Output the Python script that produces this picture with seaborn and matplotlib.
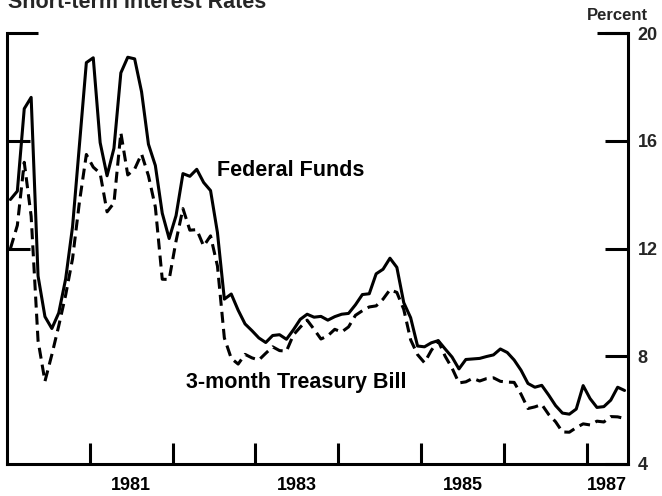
import numpy as np
import pandas as pd
import matplotlib
matplotlib.use("Agg")
import matplotlib.pyplot as plt
from matplotlib.ticker import FixedLocator, NullFormatter
import seaborn as sns

# ---- data (monthly, Jan 1980 - Jun 1987), percent ----
start_year = 1980
fed_funds = [
    13.82, 14.13, 17.19, 17.61, 10.98, 9.47, 9.03, 9.61, 10.87, 12.81, 15.85, 18.90,
    19.08, 15.93, 14.70, 15.72, 18.52, 19.10, 19.04, 17.82, 15.87, 15.08, 13.31, 12.37,
    13.22, 14.78, 14.68, 14.94, 14.45, 14.15, 12.59, 10.12, 10.31, 9.71, 9.20, 8.95,
    8.68, 8.51, 8.77, 8.80, 8.63, 8.98, 9.37, 9.56, 9.45, 9.48, 9.34, 9.47,
    9.56, 9.59, 9.91, 10.29, 10.32, 11.06, 11.23, 11.64, 11.30, 9.99, 9.43, 8.38,
    8.35, 8.50, 8.58, 8.27, 7.97, 7.53, 7.88, 7.90, 7.92, 7.99, 8.05, 8.27,
    8.14, 7.86, 7.48, 6.99, 6.85, 6.92, 6.56, 6.17, 5.89, 5.85, 6.04, 6.91,
    6.43, 6.10, 6.13, 6.37, 6.85, 6.73,
]
tbill_3m = [
    12.00, 12.86, 15.20, 13.20, 8.58, 7.07, 8.06, 9.13, 10.27, 11.62, 13.73, 15.49,
    15.02, 14.79, 13.36, 13.69, 16.30, 14.73, 14.95, 15.51, 14.70, 13.54, 10.86, 10.85,
    12.28, 13.48, 12.68, 12.70, 12.09, 12.47, 11.35, 8.68, 7.92, 7.71, 8.07, 7.94,
    7.86, 8.11, 8.35, 8.21, 8.19, 8.79, 9.08, 9.34, 9.00, 8.64, 8.76, 9.00,
    8.90, 9.09, 9.52, 9.69, 9.83, 9.87, 10.12, 10.47, 10.37, 9.74, 8.61, 8.06,
    7.76, 8.22, 8.57, 8.00, 7.56, 7.01, 7.05, 7.18, 7.08, 7.17, 7.20, 7.07,
    7.04, 7.03, 6.59, 6.06, 6.12, 6.21, 5.84, 5.57, 5.19, 5.18, 5.35, 5.49,
    5.45, 5.59, 5.56, 5.76, 5.75, 5.69,
]
year_ticks = [1981, 1982, 1983, 1984, 1985, 1986, 1987]
year_labels = ["1981", "1983", "1985", "1987"]
year_label_pos = [1981.5, 1983.5, 1985.5, 1987.25]
y_ticks = [4, 8, 12, 16, 20]
left_ticks = [12, 16]
title = "Short-term Interest Rates"
series_names = ["Federal Funds", "3-month Treasury Bill"]

t = start_year + (np.arange(len(fed_funds)) + 0.5) / 12.0
df = pd.DataFrame({"t": t, "ff": fed_funds, "tb": tbill_3m})

sns.set_style("white")
plt.rcParams["font.family"] = ["Liberation Sans", "DejaVu Sans"]
plt.rcParams["font.weight"] = "bold"

DPI = 100
fig = plt.figure(figsize=(6.62, 4.96), dpi=DPI)
ax = fig.add_axes([7 / 662, 1 - 464 / 496, (628 - 7) / 662, (464 - 33) / 496])
ax2 = ax.twinx()   # used only for the left-side tick marks

LW = 2.2
sns.lineplot(data=df, x="t", y="ff", ax=ax, color="black", lw=LW)
sns.lineplot(data=df, x="t", y="tb", ax=ax, color="black", lw=LW,
             linestyle=(0, (3.6, 2.0)))

ax.set_xlim(1980.0, 1987.5)
ax.set_ylim(4, 20)
ax.set_xlabel("")
ax.set_ylabel("")

for s in ["left", "right", "bottom"]:
    ax.spines[s].set_visible(True)
    ax.spines[s].set_linewidth(LW)
    ax.spines[s].set_color("black")
ax.spines["top"].set_visible(False)

# x ticks: year boundaries (inward), labels at mid-year
ax.xaxis.set_major_locator(FixedLocator(year_ticks))
ax.xaxis.set_major_formatter(NullFormatter())
ax.xaxis.set_minor_locator(FixedLocator(year_label_pos))
ax.set_xticklabels(year_labels, minor=True)
ax.tick_params(axis="x", which="major", direction="in", length=15, width=LW,
               color="black", bottom=True, top=False)
ax.tick_params(axis="x", which="minor", length=0, pad=9, labelsize=13,
               labelcolor="black", bottom=True)

# right y axis: ticks + labels
ax.yaxis.tick_right()
ax.yaxis.remove_overlapping_locs = False
ax.set_yticks(y_ticks)
ax.set_yticklabels([str(v) for v in y_ticks])
ax.yaxis.set_minor_locator(FixedLocator([20]))
ax.yaxis.set_minor_formatter(NullFormatter())
ax.tick_params(axis="y", which="major", direction="in", length=16.5, width=LW,
               pad=7, labelsize=13, left=False, right=True, labelleft=False,
               labelright=True, color="black")
ax.tick_params(axis="y", which="minor", direction="in", length=22, width=LW,
               left=False, right=True, color="black")
for lab in ax.get_yticklabels() + ax.get_xticklabels(minor=True):
    lab.set_fontweight("bold")

# left-side tick marks
ax2.set_ylim(4, 20)
ax2.yaxis.tick_left()
ax2.yaxis.remove_overlapping_locs = False
ax2.set_yticks(left_ticks)
ax2.yaxis.set_major_formatter(NullFormatter())
ax2.yaxis.set_minor_locator(FixedLocator([20]))
ax2.yaxis.set_minor_formatter(NullFormatter())
ax2.tick_params(axis="y", which="major", direction="in", length=16.5, width=LW,
                left=True, right=False, labelleft=False, labelright=False,
                color="black")
ax2.tick_params(axis="y", which="minor", direction="in", length=22, width=LW,
                left=True, right=False, color="black")
for s in ax2.spines.values():
    s.set_visible(False)

# make sure the main axis keeps its ticks on the right only
ax.yaxis.set_ticks_position("right")
ax.tick_params(axis="y", which="both", left=False, labelleft=False,
               right=True, labelright=True)

# series labels
ax.text(1983.43, 14.91, series_names[0], ha="center", va="center",
        fontsize=15.5, fontweight="bold", color="black")
ax.text(1983.49, 7.01, series_names[1], ha="center", va="center",
        fontsize=15.5, fontweight="bold", color="black")

fig.text(617 / 662, 1 - 15 / 496, "Percent", ha="center", va="center",
         fontsize=12, fontweight="bold")
fig.text(8 / 662, 1 - 8 / 496, title, ha="left", va="baseline",
         fontsize=15.5, fontweight="bold")

fig.savefig("out.png", dpi=DPI, facecolor="white")
